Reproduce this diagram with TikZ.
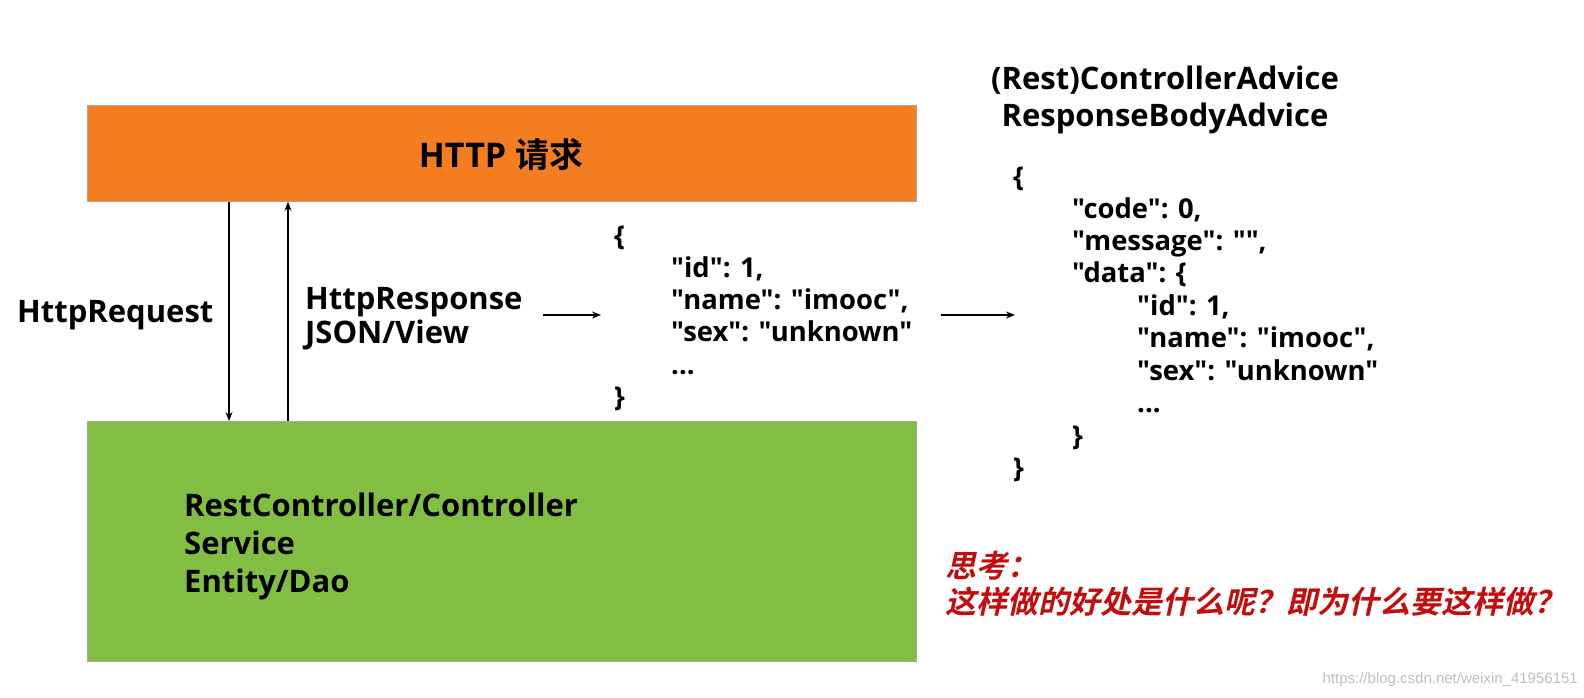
\documentclass[tikz,border=0pt]{standalone}
\usepackage{fontspec}
\setmainfont{Open Sans}[Ligatures=TeXOff]
\newfontfamily\cjk{Noto Sans CJK SC}[BoldFont={Noto Sans CJK SC Bold}]
\newfontfamily\cjkslant{Noto Sans CJK SC Bold}[FakeSlant=0.22]
\newfontfamily\markfont{Liberation Sans}
\usetikzlibrary{arrows.meta}
\definecolor{reqorange}{RGB}{244,125,32}
\definecolor{layergreen}{RGB}{130,190,66}
\definecolor{askred}{RGB}{196,12,12}
\tikzset{
  lbl/.style={font=\bfseries\fontsize{31}{31}\selectfont,inner sep=0pt,anchor=base west},
  code/.style={lbl,font=\bfseries\fontsize{27.4}{27.4}\selectfont},
  ask/.style={font=\cjkslant\fontsize{31}{31}\selectfont,text=askred,inner sep=0pt,anchor=base west},
  flow/.style={line width=1.3pt,-{Stealth[length=9pt,width=7pt]}},
  layer/.style={draw=black!35,line width=0.8pt,inner sep=0pt,minimum width=829pt,anchor=north west}
}
\begin{document}
\begin{tikzpicture}[x=1pt,y=-1pt]
\useasboundingbox (0,0) rectangle (1584,697);
\node[layer,fill=reqorange,minimum height=96pt] (request) at (87,105) {};
\node[layer,fill=layergreen,minimum height=240pt] (layers) at (87,421) {};
\node[lbl,anchor=base,font=\bfseries\fontsize{34}{34}\selectfont] (reqtitle) at (501,167) {HTTP {\cjk 请求}};
\foreach \t/\y [count=\i] in {{RestController/Controller}/516,Service/554,{Entity/Dao}/592}
  \node[lbl] (layer\i) at (184,\y) {\t};
% request / response between the layers
\coordinate (down) at (229,0);
\coordinate (up) at (288,0);
\draw[flow] (request.south -| down) -- (layers.north -| down);
\draw[flow] (layers.north -| up) -- (request.south -| up);
\node[lbl] (req) at (17,322) {HttpRequest};
\node[lbl] (resp) at (305,309) {HttpResponse};
\node[lbl] (view) at (305,343) {JSON/View};
% plain json
\coordinate (a1) at (543,315);
\coordinate (b1) at (601,315);
\draw[flow] (a1) -- (b1);
\node[code] (open1) at (614,245) {\{};
\foreach \t/\y [count=\i] in {{"id": 1,}/277,{"name": "imooc",}/309,{"sex": "unknown"}/341}
  \node[code] (plain\i) at (671,\y) {\t};
\node[code] (plaindots) at (671,374) {...};
\node[code] (close1) at (614,406) {\}};
% wrapped json
\coordinate (a2) at (941,315);
\coordinate (b2) at (1015,315);
\draw[flow] (a2) -- (b2);
\node[lbl,anchor=base] (advice1) at (1165,89) {(Rest)ControllerAdvice};
\node[lbl,anchor=base] (advice2) at (1165,126) {ResponseBodyAdvice};
\node[code] (open2) at (1013,186) {\{};
\foreach \t/\y [count=\i] in {{"code": 0,}/218,{"message": "",}/250,{"data": \{}/282}
  \node[code] (outer\i) at (1072,\y) {\t};
\foreach \t/\y [count=\i] in {{"id": 1,}/315,{"name": "imooc",}/347,{"sex": "unknown"}/380}
  \node[code] (inner\i) at (1137,\y) {\t};
\node[code] (innerdots) at (1137,412) {...};
\node[code] (close2) at (1072,445) {\}};
\node[code] (close3) at (1013,477) {\}};
% question
\node[ask] (ask1) at (945,577) {思考：};
\node[ask] (ask2) at (945,613) {这样做的好处是什么呢？即为什么要这样做？};
\node[anchor=base east,inner sep=0pt,font=\markfont\fontsize{15}{15}\selectfont,text=black!25] (mark) at (1578,683) {https://blog.csdn.net/weixin\_41956151};
\end{tikzpicture}
\end{document}
